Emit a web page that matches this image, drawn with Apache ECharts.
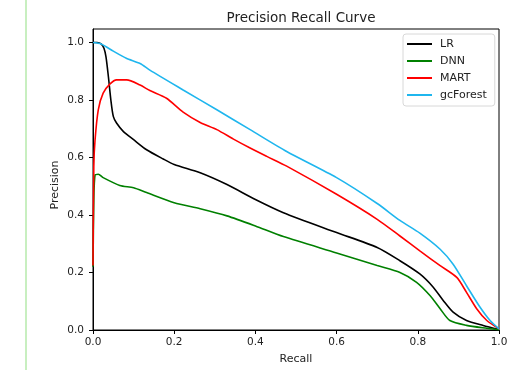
<!DOCTYPE html>
<html>
<head>
<meta charset="utf-8">
<script src="https://cdn.jsdelivr.net/npm/echarts@6/dist/echarts.min.js"></script>
<style>
html,body{margin:0;padding:0;background:#fff;}
#bar{position:absolute;left:25px;top:0;width:2px;height:370px;background:#c8efc0;}
#chart{position:absolute;left:0;top:0;width:523px;height:370px;}
</style>
</head>
<body>
<div id="bar"></div>
<div id="chart"></div>
<script>
const seriesNames = ['LR', 'DNN', 'MART', 'gcForest'];
const seriesColors = ['#000000', '#008000', '#ff0000', '#1fb6ee'];
const xTicks = [0, 0.2, 0.4, 0.6, 0.8, 1.0];
const yTicks = [0, 0.2, 0.4, 0.6, 0.8, 1.0];

const lrRecall = [0, 0.01, 0.02, 0.027, 0.032, 0.038, 0.044, 0.05, 0.058, 0.075, 0.1, 0.132, 0.173, 0.2, 0.264, 0.33, 0.4, 0.469, 0.6, 0.7, 0.756, 0.805, 0.838, 0.863, 0.887, 0.92, 0.961, 1.0];
const lrPrec   = [1.0, 1.0, 0.995, 0.98, 0.95, 0.88, 0.80, 0.743, 0.72, 0.69, 0.662, 0.627, 0.595, 0.576, 0.547, 0.506, 0.454, 0.408, 0.339, 0.287, 0.241, 0.195, 0.149, 0.102, 0.062, 0.033, 0.016, 0.002];

const dnnRecall = [0, 0.002, 0.005, 0.013, 0.025, 0.066, 0.1, 0.132, 0.2, 0.264, 0.33, 0.4, 0.469, 0.6, 0.7, 0.756, 0.797, 0.83, 0.855, 0.879, 0.92, 0.97, 1.0];
const dnnPrec   = [0.22, 0.45, 0.539, 0.542, 0.53, 0.503, 0.495, 0.478, 0.443, 0.422, 0.397, 0.362, 0.325, 0.268, 0.224, 0.2, 0.166, 0.12, 0.074, 0.033, 0.016, 0.006, 0.001];

const martRecall = [0, 0.002, 0.005, 0.013, 0.025, 0.042, 0.058, 0.083, 0.116, 0.14, 0.181, 0.222, 0.264, 0.305, 0.346, 0.387, 0.428, 0.477, 0.6, 0.7, 0.756, 0.805, 0.855, 0.896, 0.92, 0.945, 0.97, 1.0];
const martPrec   = [0.224, 0.57, 0.66, 0.766, 0.824, 0.856, 0.87, 0.87, 0.852, 0.833, 0.806, 0.758, 0.722, 0.697, 0.664, 0.633, 0.604, 0.57, 0.472, 0.385, 0.327, 0.275, 0.224, 0.183, 0.131, 0.074, 0.033, 0.004];

const gcRecall = [0, 0.02, 0.05, 0.082, 0.116, 0.14, 0.222, 0.305, 0.387, 0.477, 0.6, 0.7, 0.756, 0.805, 0.855, 0.887, 0.92, 0.953, 0.978, 1.0];
const gcPrec   = [1.0, 0.995, 0.97, 0.945, 0.927, 0.904, 0.835, 0.766, 0.697, 0.621, 0.53, 0.44, 0.381, 0.337, 0.281, 0.229, 0.154, 0.08, 0.033, 0.004];

const recalls = [lrRecall, dnnRecall, martRecall, gcRecall];
const precs = [lrPrec, dnnPrec, martPrec, gcPrec];

const chart = echarts.init(document.getElementById('chart'));
const font = 'DejaVu Sans';
chart.setOption({
  animation: false,
  backgroundColor: 'transparent',
  title: {
    text: 'Precision Recall Curve',
    left: 296, top: 6, textAlign: 'center',
    textStyle: { fontFamily: font, fontSize: 13.5, fontWeight: 'normal', color: '#222' }
  },
  legend: {
    data: seriesNames.map((n, i) => ({ name: n, icon: 'rect', itemStyle: { color: seriesColors[i] } })),
    orient: 'vertical',
    left: 403, top: 34,
    itemWidth: 25, itemHeight: 2, itemGap: 3,
    padding: [3, 8, 4, 4],
    backgroundColor: '#fff',
    borderColor: '#d8d8d8', borderWidth: 1, borderRadius: 3,
    textStyle: { fontFamily: font, fontSize: 11, color: '#222', lineHeight: 14, padding: [0, 0, 0, 3] }
  },
  graphic: [{
    type: 'text', left: 50, top: 'middle', rotation: Math.PI / 2, y: 0,
    style: { text: 'Precision', fontFamily: font, fontSize: 11, fill: '#222' }
  }],
  grid: { left: 93, right: 24, top: 29, bottom: 39, show: true, borderColor: '#000', borderWidth: 1, backgroundColor: 'transparent' },
  xAxis: {
    type: 'value', min: 0, max: 1, interval: 0.2,
    name: 'Recall', nameLocation: 'middle', nameGap: 24,
    nameTextStyle: { fontFamily: font, fontSize: 11, color: '#222' },
    axisLine: { show: true, lineStyle: { color: '#000', width: 1 } },
    axisTick: { show: true, inside: false, length: 4, lineStyle: { color: '#000' }, customValues: xTicks },
    axisLabel: { fontFamily: font, fontSize: 10.5, color: '#222', margin: 7, formatter: v => v.toFixed(1), customValues: xTicks },
    splitLine: { show: false }
  },
  yAxis: {
    type: 'value', min: 0, max: 1.047, interval: 0.2,
    axisLine: { show: true, lineStyle: { color: '#000', width: 1 } },
    axisTick: { show: true, inside: false, length: 4, lineStyle: { color: '#000' }, customValues: yTicks },
    axisLabel: { fontFamily: font, fontSize: 10.5, color: '#222', margin: 9, formatter: v => v.toFixed(1), customValues: yTicks },
    splitLine: { show: false }
  },
  series: seriesNames.map((n, i) => ({
    name: n, type: 'line',
    data: recalls[i].map((r, j) => [r, precs[i][j]]),
    showSymbol: false, symbol: 'none',
    smooth: 0.25,
    lineStyle: { color: seriesColors[i], width: 1.6 },
    itemStyle: { color: seriesColors[i] },
    z: 2 + i
  }))
});
</script>
</body>
</html>
